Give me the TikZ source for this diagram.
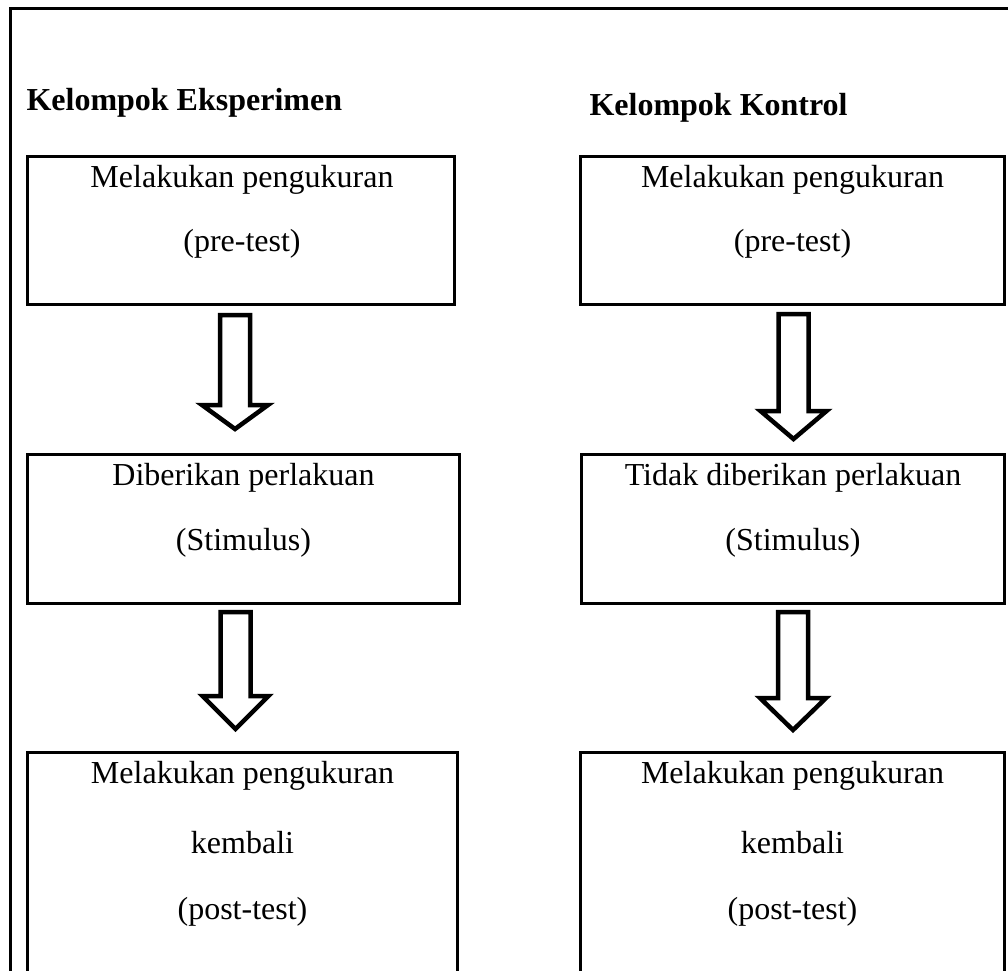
\documentclass[tikz,border=0pt]{standalone}
\usepackage{fontspec}
\setmainfont{Liberation Serif}
\usetikzlibrary{calc}

% block arrow: #1 top centre, #2 shaft length, #3 head length
\newcommand{\blokpanah}[3]{%
  \draw[panah] ($#1+(-15,0)$) -- ++(30,0) -- ++(0,#2) -- ++(18,0)
    -- ++(-33,#3) -- ++(-33,-#3) -- ++(18,0) -- cycle;}

\begin{document}
\begin{tikzpicture}[
  x=1pt, y=-1pt,
  line width=3pt,
  kotak/.style n args={2}{
    draw,
    rectangle,
    anchor=north west,
    inner sep=0pt,
    minimum width=#1,
    minimum height=#2
    },
  judul/.style={
    anchor=base west,
    inner sep=0pt,
    font=\fontsize{32}{38}\selectfont\bfseries
    },
  isi/.style={
    anchor=base,
    inner sep=0pt,
    font=\fontsize{32}{38}\selectfont
    },
  panah/.style={draw, fill=white, line width=4.5pt, line join=miter}
]
\useasboundingbox (0,0) rectangle (1008,970);
\clip (0,0) rectangle (1008,970);

% frame
\draw (10,995) -- (10,8) -- (1030,8);

\node[judul] (judulEks) at (25,110) {Kelompok Eksperimen};
\node[judul] (judulKon) at (588,115) {Kelompok Kontrol};

% kelompok eksperimen
\node[kotak={427pt}{148pt}] (L1) at (26,155) {};
\node[kotak={432pt}{149pt}] (L2) at (26,453) {};
\node[kotak={430pt}{260pt}] (L3) at (26,751) {};

\node[isi] (L1a) at ($(L1.north)+(1,32)$) {Melakukan pengukuran};
\node[isi] (L1b) at ($(L1.north)+(1,96)$) {(pre-test)};
\node[isi] (L2a) at ($(L2.north)+(0,32)$) {Diberikan perlakuan};
\node[isi] (L2b) at ($(L2.north)+(0,97)$) {(Stimulus)};
\node[isi] (L3a) at ($(L3.north)+(0,32)$) {Melakukan pengukuran};
\node[isi] (L3b) at ($(L3.north)+(0,102)$) {kembali};
\node[isi] (L3c) at ($(L3.north)+(0,168)$) {(post-test)};

\blokpanah{(L1.south)+(-6,9)}{90}{24}
\blokpanah{(L2.south)+(-8,7)}{84}{33}

% kelompok kontrol
\node[kotak={424pt}{148pt}] (R1) at (579,155) {};
\node[kotak={423pt}{149pt}] (R2) at (580,453) {};
\node[kotak={424pt}{260pt}] (R3) at (579,751) {};

\node[isi] (R1a) at ($(R1.north)+(0,32)$) {Melakukan pengukuran};
\node[isi] (R1b) at ($(R1.north)+(0,96)$) {(pre-test)};
\node[isi] (R2a) at ($(R2.north)+(0,32)$) {Tidak diberikan perlakuan};
\node[isi] (R2b) at ($(R2.north)+(0,97)$) {(Stimulus)};
\node[isi] (R3a) at ($(R3.north)+(0,32)$) {Melakukan pengukuran};
\node[isi] (R3b) at ($(R3.north)+(0,102)$) {kembali};
\node[isi] (R3c) at ($(R3.north)+(0,168)$) {(post-test)};

\blokpanah{(R1.south)+(1,8)}{97}{28}
\blokpanah{(R2.south)+(0,7)}{86}{32}
\end{tikzpicture}
\end{document}
